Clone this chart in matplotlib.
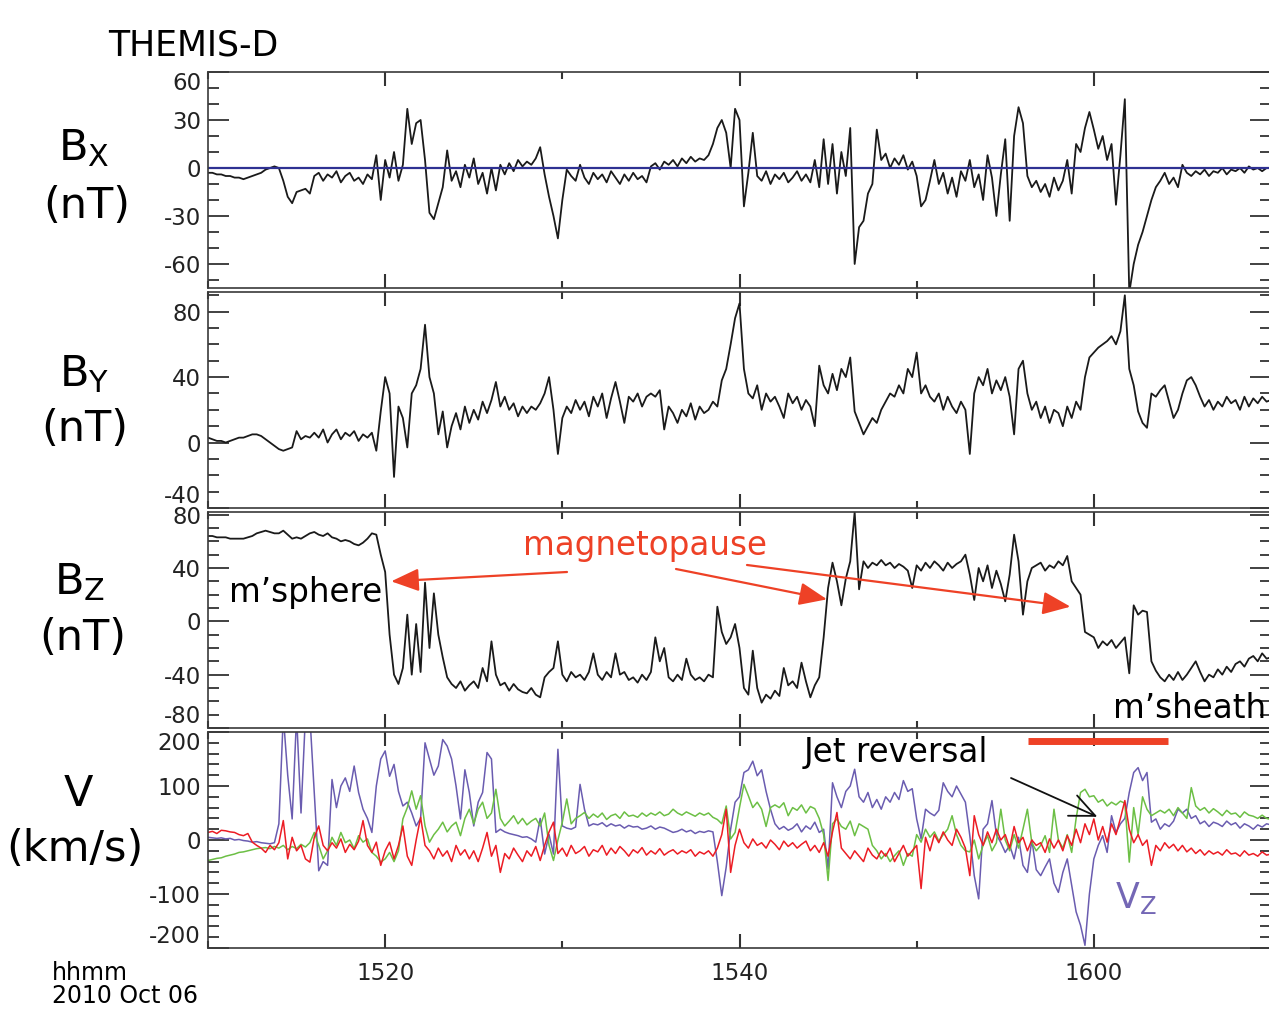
#Import libraries
import numpy as np
import matplotlib
matplotlib.use('Agg')
import matplotlib.pyplot as plt
from matplotlib.ticker import MultipleLocator

plt.rcParams['font.family'] = 'DejaVu Sans'
plt.rcParams['mathtext.fontset'] = 'dejavusans'

#Time axis: minutes after 15:00 UT, one sample every 15 s
t_start = 10.0
t_step = 0.25

#Bx (nT), 5 minutes per row
bx = [-3,-3,-4,-4, -5,-5,-6,-6, -7,-6,-5,-4, -3,-1,0,1, 0,-8,-18,-22,
      -15,-14,-13,-16, -5,-3,-8,-4, -6,-2,-9,-5, -3,-8,-6,-10, -4,-7,8,-20,
      5,-6,10,-8, 2,37,15,28, 30,5,-28,-32, -22,-12,11,-8, -2,-12,2,-6,
      6,-10,-3,-16, 0,-14,2,-4, 3,-2,5,1, 4,2,6,13, -4,-18,-30,-44,
      -20,-1,-5,-8, 2,-6,-10,-3, -7,-4,-9,-2, -6,-10,-4,-8, -3,-7,-5,-9,
      1,3,-1,4, 2,5,1,6, 3,7,4,6, 5,8,15,25, 30,22,0,37,
      30,-24,-3,22, -5,-8,-2,-10, -4,-7,-3,-9, -6,-2,-8,-4, -9,5,-12,18,
      -10,15,-16,10, -5,25,-60,-37, -33,-16,-10,24, 5,9,0,6, 2,8,-1,4,
      -5,-24,-20,-8, 5,-10,-3,-16, -6,-18,-2,-8, 5,-12,-4,-20, 8,-6,-30,-4,
      18,-33,20,38, 28,-5,-12,-8, -15,-10,-18,-6, -14,-8,5,-16, 15,10,25,35,
      24,12,20,5, 15,-23,8,43, -78,-60,-48,-40, -30,-20,-12,-8, -3,-10,-6,-12,
      2,-3,-5,-2, -4,-1,-5,-2, -3,0,-4,-1, -2,0,-3,1, -1,0,-2,0, 0]

#By (nT)
by = [3,2,1,1, 0,1,2,3, 3,4,5,5, 4,2,0,-2, -4,-5,-4,-3,
      7,2,4,3, 6,3,8,0, 5,8,2,6, 4,7,1,5, 3,6,-5,19,
      40,30,-21,22, 15,-3,30,35, 45,72,40,30, 5,19,-3,10, 18,8,22,12,
      20,14,25,18, 26,37,22,28, 20,24,16,22, 18,22,20,24, 30,40,20,-7,
      15,22,18,26, 20,25,16,28, 22,30,15,27, 37,25,12,28, 25,30,22,28,
      30,28,32,8, 22,18,12,20, 16,24,14,22, 18,20,25,22, 38,45,60,76,
      85,45,30,27, 35,20,30,25, 28,22,15,30, 24,28,20,26, 22,10,47,35,
      30,42,32,45, 40,52,19,12, 5,10,15,12, 20,25,30,28, 35,30,45,40,
      55,30,35,28, 25,30,20,28, 22,18,25,20, -7,30,40,35, 45,30,38,32,
      40,28,5,45, 50,30,20,25, 15,22,12,20, 18,10,22,15, 25,20,40,52,
      55,58,60,62, 65,60,68,90, 45,35,19,12, 9,30,28,32, 35,25,15,20,
      30,38,40,35, 28,22,26,20, 25,22,28,24, 26,20,28,22, 27,24,28,25, 26]

#Bz (nT)
bz = [64,64,63,63, 63,62,62,62, 62,63,64,66, 67,68,67,66, 66,68,65,62,
      63,62,64,66, 67,65,64,66, 63,62,60,61, 60,58,57,59, 62,66,65,50,
      37,-10,-40,-47, -35,5,-40,-2, -38,29,-20,21, -10,-27,-42,-47, -50,-45,-52,-48,
      -45,-50,-35,-45, -15,-40,-48,-46, -52,-47,-51,-53, -54,-50,-55,-57, -42,-38,-35,-15,
      -40,-45,-38,-42, -40,-44,-38,-24, -40,-44,-38,-42, -24,-40,-38,-44, -42,-46,-40,-44,
      -38,-12,-30,-20, -42,-45,-40,-44, -28,-40,-44,-42, -45,-40,-42,11, -8,-17,-12,-2,
      -20,-50,-55,-22, -50,-61,-55,-58, -52,-56,-35,-48, -45,-50,-31,-45, -57,-48,-42,-12,
      25,44,30,12, 32,45,82,24, 45,40,44,42, 46,42,44,40, 43,41,38,25,
      42,38,44,40, 45,42,38,44, 40,43,45,50, 35,16,40,30, 42,25,38,28,
      15,35,65,45, 5,30,40,42, 44,38,42,40, 45,42,49,30, 25,20,-8,-10,
      -12,-20,-15,-18, -14,-20,-16,-12, -39,12,5,8, 7,-30,-37,-42, -45,-40,-44,-38,
      -44,-40,-35,-30, -38,-45,-40,-42, -36,-40,-34,-38, -32,-30,-34,-28, -26,-30,-24,-28, -27]

#Ion velocity components (km/s)
vz = [5,4,3,4, 2,3,0,1, -1,-2,-4,-3, -5,-6,-7,-5, 30,230,120,39,
      230,50,230,230, 88,-57,-40,-47, 112,60,100,115, 90,137,88,57, 40,14,100,150,
      165,118,140,90, 63,70,50,26, 40,180,150,120, 137,186,174,150, 100,39,130,88,
      26,70,88,162, 150,14,20,15, 12,10,8,5, 6,2,-4,40, -26,10,-26,168,
      26,22,20,24, 103,57,26,30, 28,32,25,30, 26,28,22,27, 24,25,20,22,
      26,20,24,22, 18,14,16,20, 15,18,12,16, 14,17,15,-40, -103,-50,20,70,
      80,125,130,146, 119,130,90,57, 30,20,25,18, 22,30,15,26, 20,33,14,20,
      -54,106,80,60, 90,100,131,80, 70,88,60,75, 57,80,70,88, 75,110,90,95,
      39,2,57,50, 45,55,106,90, 80,100,85,70, 8,-66,-109,20, 30,73,10,-5,
      -23,-10,-35,5, -47,-60,0,-55, -66,-50,-35,-80, -97,-60,-35,-84, -133,-158,-195,-100,
      -35,-10,8,-23, 45,14,30,40, 88,125,134,110, 125,33,39,20, 30,25,35,57,
      50,57,40,45, 30,35,25,33, 30,25,35,28, 32,22,30,26, 20,28,24,30, 28]

vy = [-38,-36,-34,-33, -30,-28,-26,-23, -22,-20,-18,-16, -15,-14,-16,-12, -15,-10,-18,-12,
      -16,-8,-13,-5, 14,-10,-35,-20, 5,-10,14,-5, 0,-16,8,-4, 2,-23,-30,-41,
      -35,-23,-40,-20, 39,60,91,57, 82,26,-4,10, 20,33,15,26, 33,8,40,57,
      30,57,70,40, 50,94,40,26, 35,45,30,40, 28,35,40,26, 50,-10,-38,0,
      33,76,30,40, 45,51,40,48, 42,50,38,45, 48,40,52,44, 46,42,50,44,
      50,46,52,45, 48,57,50,46, 52,48,44,50, 46,50,42,38, 30,63,2,14,
      60,103,82,60, 70,57,25,60, 65,60,69,45, 60,55,65,50, 62,58,40,10,
      -75,30,39,25, 20,35,8,30, 25,20,-10,-20, -35,-25,-40,-29, -20,-47,-25,-30,
      10,-4,20,5, 15,-2,10,20, 45,10,-10,-20, -22,0,-35,-10, 8,-20,-5,57,
      0,-20,10,-15, 20,57,-5,-20, -10,8,-23,57, 0,-15,10,-23, 40,88,94,80,
      82,70,75,63, 70,65,72,68, -41,60,10,80, 57,45,50,55, 50,57,45,60,
      50,40,97,63, 55,60,50,58, 52,45,55,48, 50,42,52,46, 44,40,46,40, 38]

vx = [14,16,12,18, 17,15,14,10, 8,12,-4,-10, -15,-23,-10,-18, -5,36,-35,5,
      -20,-10,-35,-41, 5,26,-10,-20, -5,-15,2,-23, -8,-18,-2,36, -10,-23,-4,-47,
      -20,-4,-35,-10, 26,-30,-47,0, 42,-10,-20,-35, -15,-30,-20,-40, -10,-28,-18,-35,
      -20,-40,-15,14, -30,-10,-60,-25, -35,-15,-28,-40, -20,-30,-12,-38, -10,15,33,-25,
      -15,-30,-10,-25, -20,-12,-30,-18, -22,-10,-28,-15, -25,-12,-20,-30, -18,-24,-14,-28,
      -20,-26,-16,-28, -22,-18,-26,-20, -24,-18,-30,-22, -26,-20,-30,-15, 10,57,-60,-10,
      20,-5,-15,2, -10,-5,-15,0, -8,-18,-2,-12, -5,-15,-8,-2, -20,-10,-23,-5,
      -30,15,51,-15, -25,-35,-20,-30, -40,-15,-28,-35, -20,-30,-15,-40, -25,-10,-30,-20,
      -10,-90,5,-20, 10,-5,15,0, -10,20,5,-15, -66,45,10,-10, 15,-5,20,0,
      10,-15,25,-5, 5,-20,0,-10, -5,-23,2,-15, 0,-20,8,-10, 20,-5,30,10,
      39,0,25,-4, 30,10,40,73, 20,-5,10,-10, 0,-47,-10,-20, -5,-15,-8,-20,
      -10,-22,-15,-25, -18,-28,-20,-26, -22,-28,-18,-26, -24,-30,-20,-28, -25,-30,-22,-28, -26]

#Axis ticks
xticks = [20, 40, 60]
xticklabels = ['1520', '1540', '1600']
bx_ticks = [60, 30, 0, -30, -60]
by_ticks = [80, 40, 0, -40]
bz_ticks = [80, 40, 0, -40, -80]
v_ticks = [200, 100, 0, -100, -200]

#Annotation targets (time in minutes, value)
mp_times = [20.34, 44.94, 58.68]
mp_bz = [30, 16.5, 11]
jet_interval = [56.3, 64.2]
jet_level = 183
jet_point = (60.2, 43)

W, H = 1269, 1011
fig = plt.figure(figsize=(W / 100, H / 100), dpi=100)

def fx(x):
    return x / W

def fy(y):
    return 1 - y / H

def times(series):
    return t_start + t_step * np.arange(len(series))

#panel top/bottom in pixels
boxes = [(72, 288), (292, 508), (512, 728), (732, 948)]
left_px, right_px = 208, 1271
ylims = [(-75, 60), (-40, 92), (-80, 82), (-200, 200)]
majors = [bx_ticks, by_ticks, bz_ticks, v_ticks]
minors = [10, 10, 10, 20]
# which edge labels are nudged inside the box
nudge = [{60: 'top'}, {-40: 'bottom'}, {-80: 'bottom'}, {200: 'top', -200: 'bottom'}]

axes = []
for i, (top, bot) in enumerate(boxes):
    ax = fig.add_axes([fx(left_px), fy(bot), (right_px - left_px) / W, (bot - top) / H])
    ax.set_xlim(10, 70)
    ax.set_ylim(*ylims[i])
    for s in ax.spines.values():
        s.set_linewidth(1.2)
        s.set_color('#3a3a3a')
    ax.set_xticks(xticks)
    ax.xaxis.set_minor_locator(MultipleLocator(10))
    ax.set_yticks(majors[i], labels=[str(v) for v in majors[i]])
    ax.yaxis.set_minor_locator(MultipleLocator(minors[i]))
    ax.tick_params(axis='y', which='major', direction='in', length=15, width=1.3,
                   left=True, right=True, labelsize=16.5, pad=5, colors='#333333',
                   labelcolor='#222222')
    ax.tick_params(axis='y', which='minor', direction='in', length=8, width=1.3,
                   left=True, right=True, colors='#333333')
    ax.tick_params(axis='x', which='major', direction='in', length=10, width=1.5,
                   top=True, bottom=True, labelsize=16.5, pad=10, colors='#333333',
                   labelcolor='#222222')
    ax.tick_params(axis='x', which='minor', direction='in', length=5, width=1.5,
                   top=True, bottom=True, colors='#333333')
    if i < 3:
        ax.set_xticklabels([])
    else:
        ax.set_xticklabels(xticklabels)
    for v, tk in zip(majors[i], ax.yaxis.get_major_ticks()):
        if v in nudge[i]:
            tk.label1.set_verticalalignment(nudge[i][v])
    axes.append(ax)

ax1, ax2, ax3, ax4 = axes

#Magnetic field
ax1.plot(times(bx), bx, color='#1a1a1a', lw=1.3)
ax1.axhline(0, color='#2e3192', lw=1.6)
ax2.plot(times(by), by, color='#1a1a1a', lw=1.3)
ax3.plot(times(bz), bz, color='#1a1a1a', lw=1.3)

#Velocity
ax4.plot(times(vz), vz, color='#6a5cb0', lw=1.1)
ax4.plot(times(vy), vy, color='#6cbf45', lw=1.1)
ax4.plot(times(vx), vx, color='#ec1c24', lw=1.1)
ax4.plot(jet_interval, [jet_level, jet_level], color='#ee4126', lw=5, solid_capstyle='butt')

#Left labels
lab_size = 31
fig.text(fx(84), fy(160), r'B$_\mathregular{X}$', fontsize=lab_size, ha='center', va='baseline')
fig.text(fx(87), fy(218), '(nT)', fontsize=lab_size, ha='center', va='baseline')
fig.text(fx(84), fy(386), r'B$_\mathregular{Y}$', fontsize=lab_size, ha='center', va='baseline')
fig.text(fx(85), fy(441), '(nT)', fontsize=lab_size, ha='center', va='baseline')
fig.text(fx(80), fy(594), r'B$_\mathregular{Z}$', fontsize=lab_size, ha='center', va='baseline')
fig.text(fx(83), fy(650), '(nT)', fontsize=lab_size, ha='center', va='baseline')
fig.text(fx(78), fy(806), 'V', fontsize=lab_size, ha='center', va='baseline')
fig.text(fx(75), fy(861), '(km/s)', fontsize=lab_size, ha='center', va='baseline')

fig.text(fx(108), fy(55), 'THEMIS-D', fontsize=25, ha='left', va='baseline')
fig.text(fx(52), fy(980), 'hhmm', fontsize=17, ha='left', va='baseline')
fig.text(fx(52), fy(1003), '2010 Oct 06', fontsize=17, ha='left', va='baseline')

#Annotations
red = '#ee4126'
fig.text(fx(645), fy(555), 'magnetopause', fontsize=23.5, color=red, ha='center', va='baseline')
fig.text(fx(229), fy(602), 'm\u2019sphere', fontsize=23.5, ha='left', va='baseline')
fig.text(fx(1266), fy(718), 'm\u2019sheath', fontsize=23.5, ha='right', va='baseline')
fig.text(fx(804), fy(762), 'Jet reversal', fontsize=23.5, ha='left', va='baseline')
fig.text(fx(1115), fy(908), r'V$_\mathregular{Z}$', fontsize=25, color='#7467b5',
         ha='left', va='baseline')

tails = [(567, 572), (676, 569), (747, 565)]
for tm, b, (px, py) in zip(mp_times, mp_bz, tails):
    ax3.annotate('', xy=(tm, b), xycoords='data', xytext=(fx(px), fy(py)),
                 textcoords='figure fraction',
                 arrowprops=dict(arrowstyle='-|>,head_length=0.85,head_width=0.35',
                                 color=red, lw=1.6, shrinkA=0, shrinkB=0,
                                 mutation_scale=20))

ax4.annotate('', xy=jet_point, xycoords='data', xytext=(fx(1011), fy(778)),
             textcoords='figure fraction',
             arrowprops=dict(arrowstyle='->,head_length=0.9,head_width=0.4',
                             color='#111111', lw=1.3, shrinkA=0, shrinkB=0,
                             mutation_scale=20))

plt.savefig('out.png', dpi=100)
plt.close('all')
